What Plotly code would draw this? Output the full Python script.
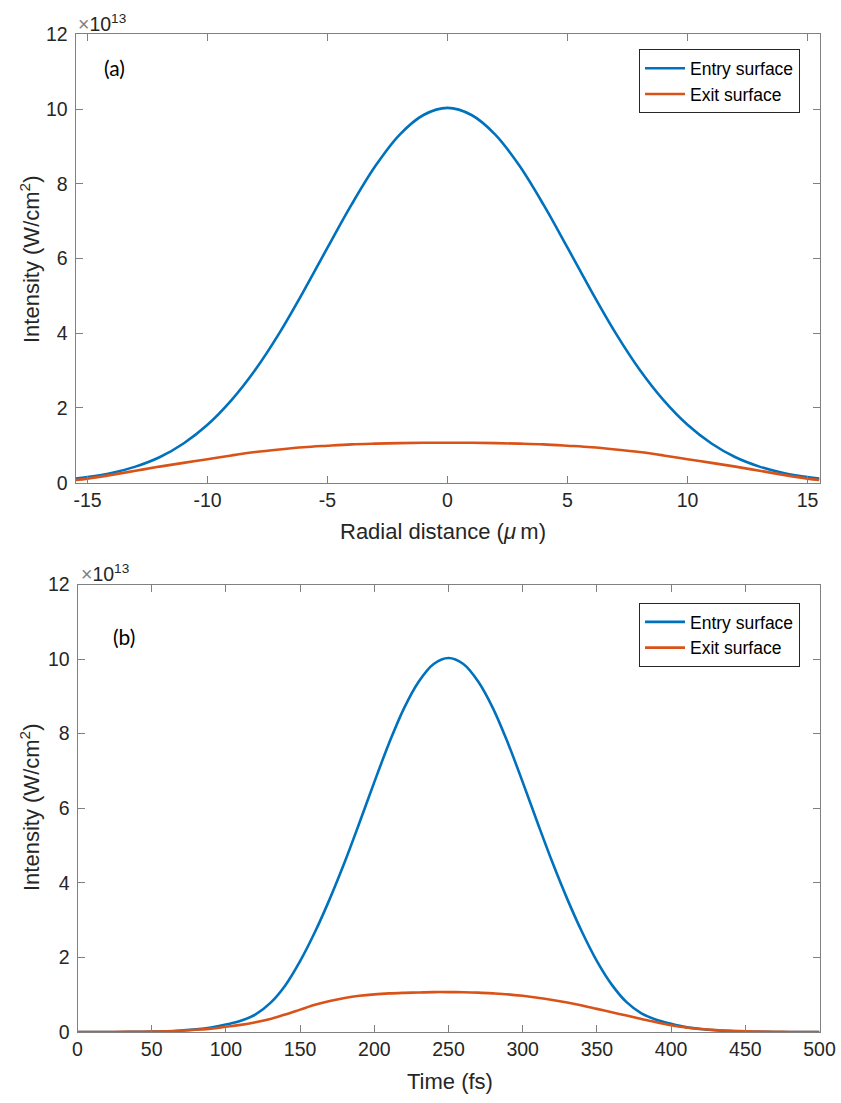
import plotly.graph_objects as go

# ---- data (intensity in units of 1e13 W/cm^2) ----
radial_um = [-15.5, -15, -14, -13, -12, -11, -10, -9, -8, -7, -6, -5, -4, -3, -2, -1, 0,
             1, 2, 3, 4, 5, 6, 7, 8, 9, 10, 11, 12, 13, 14, 15, 15.5]
entry_radial = [0.11, 0.15, 0.26, 0.43, 0.68, 1.05, 1.55, 2.21, 3.03, 4.01, 5.12, 6.29, 7.44, 8.48, 9.31, 9.84, 10.03,
                9.84, 9.31, 8.48, 7.44, 6.29, 5.12, 4.01, 3.03, 2.21, 1.55, 1.05, 0.68, 0.43, 0.26, 0.15, 0.11]
exit_radial = [0.07, 0.11, 0.21, 0.32, 0.43, 0.53, 0.63, 0.73, 0.82, 0.89, 0.95, 0.99, 1.025, 1.045, 1.06, 1.068, 1.07,
               1.068, 1.06, 1.045, 1.025, 0.99, 0.95, 0.89, 0.82, 0.73, 0.63, 0.53, 0.43, 0.32, 0.21, 0.11, 0.07]

time_fs = [0, 10, 20, 30, 40, 50, 60, 70, 80, 90, 100, 110, 120, 130, 140, 150, 160, 170, 180, 190, 200,
           210, 220, 230, 240, 250, 260, 270, 280, 290, 300, 310, 320, 330, 340, 350, 360, 370, 380, 390, 400,
           410, 420, 430, 440, 450, 460, 470, 480, 490, 500]
entry_time = [0.0, 0.0, 0.0, 0.0, 0.005, 0.01, 0.02, 0.04, 0.07, 0.12, 0.2, 0.3, 0.47, 0.78, 1.25, 1.9, 2.68,
              3.57, 4.55, 5.61, 6.7, 7.75, 8.68, 9.4, 9.87, 10.03, 9.87, 9.4, 8.68, 7.75, 6.7, 5.61, 4.55, 3.57,
              2.68, 1.9, 1.27, 0.8, 0.5, 0.33, 0.22, 0.13, 0.08, 0.045, 0.025, 0.012, 0.005, 0.0, 0.0, 0.0, 0.0]
exit_time = [0.0, 0.0, 0.0, 0.003, 0.006, 0.01, 0.02, 0.035, 0.06, 0.09, 0.14, 0.19, 0.26, 0.35, 0.47, 0.6, 0.73,
             0.83, 0.91, 0.97, 1.01, 1.035, 1.05, 1.06, 1.07, 1.07, 1.065, 1.055, 1.035, 1.01, 0.97, 0.92, 0.86,
             0.79, 0.71, 0.62, 0.53, 0.44, 0.35, 0.26, 0.18, 0.12, 0.08, 0.05, 0.03, 0.02, 0.01, 0.005, 0.0, 0.0, 0.0]

y_ticks = [0, 2, 4, 6, 8, 10, 12]
y_tick_labels = ["0", "2", "4", "6", "8", "10", "12"]
radial_ticks = [-15, -10, -5, 0, 5, 10, 15]
radial_tick_labels = ["-15", "-10", "-5", "0", "5", "10", "15"]
time_ticks = [0, 50, 100, 150, 200, 250, 300, 350, 400, 450, 500]
time_tick_labels = ["0", "50", "100", "150", "200", "250", "300", "350", "400", "450", "500"]

BLUE = "#0072BD"
ORANGE = "#D95319"
AX = "#808080"
TXT = "#262626"
FONT = "Liberation Sans, Arial, sans-serif"

W, H = 841, 1103

fig = go.Figure()
fig.add_trace(go.Scatter(x=radial_um, y=entry_radial, mode="lines", name="Entry surface",
                         line=dict(color=BLUE, width=2.6, shape="spline"), xaxis="x", yaxis="y", legend="legend"))
fig.add_trace(go.Scatter(x=radial_um, y=exit_radial, mode="lines", name="Exit surface",
                         line=dict(color=ORANGE, width=2.6, shape="spline"), xaxis="x", yaxis="y", legend="legend"))
fig.add_trace(go.Scatter(x=time_fs, y=entry_time, mode="lines", name="Entry surface",
                         line=dict(color=BLUE, width=2.6, shape="spline"), xaxis="x2", yaxis="y2", legend="legend2"))
fig.add_trace(go.Scatter(x=time_fs, y=exit_time, mode="lines", name="Exit surface",
                         line=dict(color=ORANGE, width=2.6, shape="spline"), xaxis="x2", yaxis="y2", legend="legend2"))


def px_x(p):
    return p / W


def px_y(p):
    return 1 - p / H


axis_common = dict(showline=True, linecolor=AX, linewidth=1, mirror="ticks", ticks="inside",
                   ticklen=7, tickcolor=AX, tickwidth=1, showgrid=False, zeroline=False,
                   automargin=False,
                   tickfont=dict(family=FONT, size=19.5, color=TXT))

a_top, a_bot = 34.3, 482.7
b_top, b_bot = 584.5, 1032.0
a_l, a_r = 75.5, 819.5
b_l, b_r = 77.5, 819.5

legend_common = dict(xanchor="right", yanchor="top", bordercolor="#262626", borderwidth=1,
                     bgcolor="white", font=dict(family=FONT, size=17.5, color="black"),
                     tracegroupgap=0, itemwidth=40)

fig.update_layout(
    width=W, height=H, autosize=False,
    margin=dict(l=0, r=0, t=0, b=0, pad=0, autoexpand=False),
    paper_bgcolor="white", plot_bgcolor="white",
    font=dict(family=FONT, color=TXT),
    xaxis=dict(domain=[px_x(a_l), px_x(a_r)], range=[-15.5, 15.5], tickvals=radial_ticks,
               ticktext=radial_tick_labels, anchor="y", **axis_common),
    yaxis=dict(domain=[px_y(a_bot), px_y(a_top)], range=[0, 12], tickvals=y_ticks,
               ticktext=y_tick_labels, anchor="x", ticklabelstandoff=3, **axis_common),
    xaxis2=dict(domain=[px_x(b_l), px_x(b_r)], range=[0, 500], tickvals=time_ticks,
                ticktext=time_tick_labels, anchor="y2", **axis_common),
    yaxis2=dict(domain=[px_y(b_bot), px_y(b_top)], range=[0, 12], tickvals=y_ticks,
                ticktext=y_tick_labels, anchor="x2", ticklabelstandoff=3, **axis_common),
    legend=dict(x=px_x(800), y=px_y(49.3), **legend_common),
    legend2=dict(x=px_x(800), y=px_y(603), **legend_common),
)

annots = [
    dict(x=px_x(76), y=px_y(37), text="<span style='color:#808080'>×</span>10<sup>13</sup>",
         xanchor="left", yanchor="bottom"),
    dict(x=px_x(79), y=px_y(587), text="<span style='color:#808080'>×</span>10<sup>13</sup>",
         xanchor="left", yanchor="bottom"),
]
for a in annots:
    a.update(xref="paper", yref="paper", showarrow=False, font=dict(family=FONT, size=19.5, color=TXT))

panel = [
    dict(x=px_x(114), y=px_y(68), text="(a)"),
    dict(x=px_x(124), y=px_y(636), text="(b)"),
]
for a in panel:
    a.update(xref="paper", yref="paper", showarrow=False, xanchor="center", yanchor="middle",
             font=dict(family="Lato, Open Sans, sans-serif", size=21, color="black"))

titles = [
    dict(x=px_x(443), y=px_y(532), text="Radial distance (<i>μ</i>\u2009m)", textangle=0),
    dict(x=px_x(450), y=px_y(1081), text="Time (fs)", textangle=0),
    dict(x=px_x(30), y=px_y(260), text="Intensity (W/cm<sup>2</sup>)", textangle=-90),
    dict(x=px_x(30), y=px_y(808), text="Intensity (W/cm<sup>2</sup>)", textangle=-90),
]
for a in titles:
    a.update(xref="paper", yref="paper", showarrow=False, xanchor="center", yanchor="middle",
             font=dict(family=FONT, size=22, color=TXT))

fig.update_layout(annotations=annots + panel + titles)

fig.write_html("out.html",
               post_script="document.body.style.margin='0';document.body.style.padding='0';"
                           "document.documentElement.style.overflow='hidden';")
